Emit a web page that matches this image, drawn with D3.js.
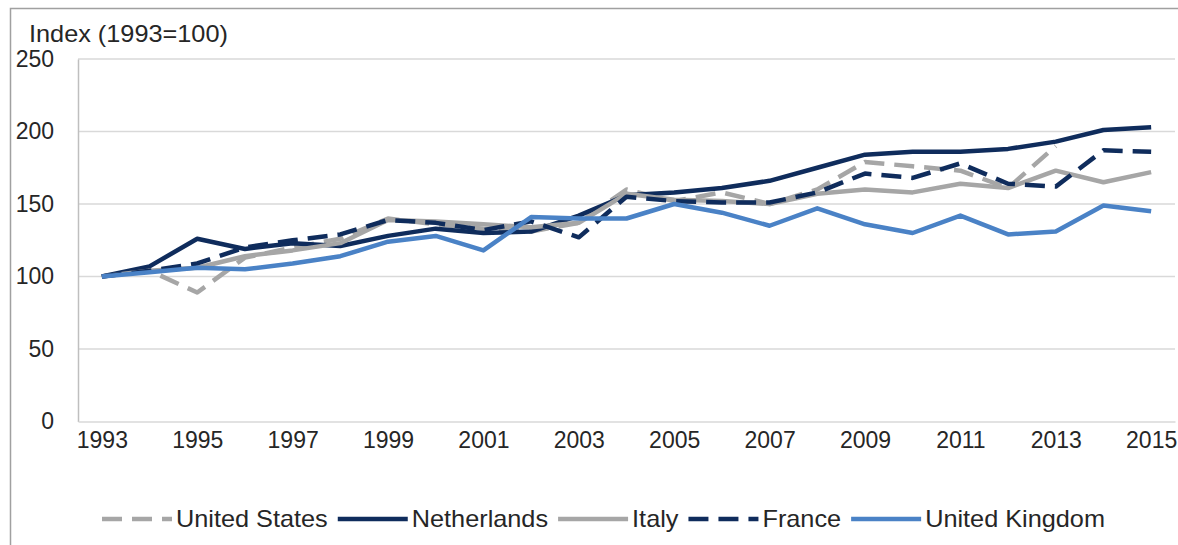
<!DOCTYPE html>
<html>
<head>
<meta charset="utf-8">
<script src="https://cdn.jsdelivr.net/npm/d3@7"></script>
<style>
  body { margin: 0; background: #fff; }
  svg { font-family: "Liberation Sans", Arial, sans-serif; }
</style>
</head>
<body>
<div id="chart"></div>
<script>
// data
const years = d3.range(1993, 2016);
const unitedStates = [100,104,89,113,120,126,140,136,133,131,137,160,152,158,150,160,179,176,173,161,190,null,null];
const netherlands = [100,107,126,119,123,121,128,133,130,131,142,156,158,161,166,175,184,186,186,188,193,201,203];
const italy = [100,104,106,114,118,123,139,138,136,134,137,157,153,152,150,157,160,158,164,161,173,165,172];
const france = [100,104,109,120,125,129,139,137,132,138,127,155,152,151,151,158,171,168,178,164,162,187,186];
const unitedKingdom = [100,103,106,105,109,114,124,128,118,141,140,140,150,144,135,147,136,130,142,129,131,149,145];
const yTicks = [0, 50, 100, 150, 200, 250];
const xTickYears = years.filter(y => (y - 1993) % 2 === 0);

const series = [
  { name: "United States", values: unitedStates, color: "#a6a6a6", dash: "20,10" },
  { name: "Netherlands", values: netherlands, color: "#0f2c5c", dash: null },
  { name: "Italy", values: italy, color: "#a6a6a6", dash: null },
  { name: "France", values: france, color: "#0f2c5c", dash: "20,10" },
  { name: "United Kingdom", values: unitedKingdom, color: "#4a82c6", dash: null }
];

const width = 1178, height = 545;
const plotLeft = 78, plotRight = 1175, plotTop = 59, plotBottom = 421.5;
const stretch = 1.1; // text in the source looks a bit wide

const svg = d3.select("#chart").append("svg")
  .attr("width", width)
  .attr("height", height);

// outer frame (left + top edges only visible)
svg.append("path")
  .attr("d", `M10.5,${height} V8.5 H${width}`)
  .attr("fill", "none")
  .attr("stroke", "#a0a0a0")
  .attr("stroke-width", 1.5);

const x = d3.scalePoint().domain(years).range([plotLeft, plotRight]).padding(0.5);
const y = d3.scaleLinear().domain([0, 250]).range([plotBottom, plotTop]);

// gridlines
svg.append("g")
  .selectAll("line")
  .data(yTicks.filter(d => d > 0))
  .join("line")
  .attr("x1", plotLeft).attr("x2", plotRight)
  .attr("y1", d => y(d)).attr("y2", d => y(d))
  .attr("stroke", "#d9d9d9")
  .attr("stroke-width", 1.5);

// axes
const yAxis = svg.append("g")
  .attr("transform", `translate(${plotLeft},0)`)
  .call(d3.axisLeft(y).tickValues(yTicks).tickSize(0).tickPadding(24));
yAxis.select(".domain").attr("stroke", "#bfbfbf").attr("stroke-width", 1.5);
yAxis.selectAll("text").attr("font-size", 23).attr("fill", "#262626")
  .attr("font-family", "Liberation Sans, Arial, sans-serif");

const xAxis = svg.append("g")
  .attr("transform", `translate(0,${plotBottom})`)
  .call(d3.axisBottom(x).tickValues(xTickYears).tickSize(0).tickPadding(10));
xAxis.select(".domain").attr("stroke", "#d9d9d9").attr("stroke-width", 1.5);
xAxis.selectAll("text").attr("font-size", 23).attr("fill", "#262626")
  .attr("font-family", "Liberation Sans, Arial, sans-serif");

// title
svg.append("text")
  .attr("transform", `translate(29,42) scale(${stretch},1)`)
  .attr("font-size", 23)
  .attr("fill", "#262626")
  .text("Index (1993=100)");

// lines
const line = d3.line()
  .defined(d => d.v != null)
  .x(d => x(d.year))
  .y(d => y(d.v));

svg.append("g")
  .selectAll("path")
  .data(series)
  .join("path")
  .attr("d", s => line(s.values.map((v, i) => ({ year: years[i], v }))))
  .attr("fill", "none")
  .attr("stroke", s => s.color)
  .attr("stroke-width", 4.5)
  .attr("stroke-dasharray", s => s.dash)
  .attr("stroke-linejoin", "round");

// legend
const legend = svg.append("g").attr("transform", "translate(102,519)");
let lx = 0;
series.forEach(s => {
  const g = legend.append("g").attr("transform", `translate(${lx},0)`);
  g.append("line")
    .attr("x1", 0).attr("x2", 70)
    .attr("stroke", s.color)
    .attr("stroke-width", 4.5)
    .attr("stroke-dasharray", s.dash);
  const t = g.append("text")
    .attr("transform", `translate(74,0) scale(${stretch},1)`)
    .attr("dy", "0.35em")
    .attr("font-size", 23)
    .attr("fill", "#262626")
    .text(s.name);
  lx += 74 + t.node().getComputedTextLength() * stretch + 10;
});
</script>
</body>
</html>
